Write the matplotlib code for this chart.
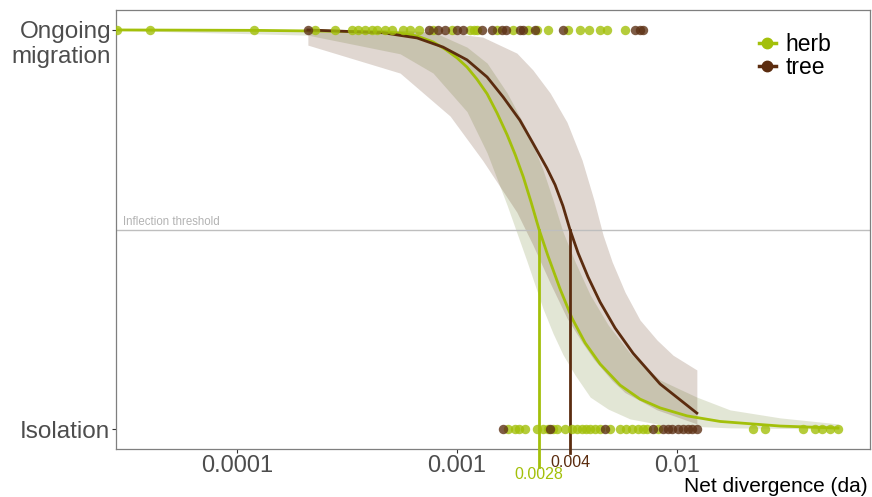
import matplotlib
matplotlib.use("Agg")
import matplotlib.pyplot as plt
from matplotlib.lines import Line2D
import numpy as np

plt.rcParams['font.family'] = ['Liberation Sans', 'DejaVu Sans']

herb_col = '#A3C00A'
tree_col = '#5B2C0F'
tree_pt = '#5E3216'

# observed divergence, at "Ongoing migration" (1) and "Isolation" (0)
herb_top = [2.85e-5, 4.03e-5, 1.19e-4, 2.26e-4, 2.79e-4, 3.33e-4, 3.55e-4, 3.82e-4,
            4.11e-4, 4.33e-4, 4.71e-4, 5.07e-4, 5.69e-4, 6.11e-4, 6.72e-4, 7.78e-4,
            9.50e-4, 1.15e-3, 1.19e-3, 1.23e-3, 1.52e-3, 1.80e-3, 2.10e-3, 2.31e-3,
            2.59e-3, 3.20e-3, 3.62e-3, 3.98e-3, 4.47e-3, 4.81e-3, 5.80e-3]
tree_top = [2.10e-4, 7.46e-4, 8.20e-4, 8.82e-4, 1.00e-3, 1.06e-3, 1.30e-3, 1.44e-3,
            1.60e-3, 1.67e-3, 1.93e-3, 2.00e-3, 2.26e-3, 3.03e-3, 6.44e-3, 6.79e-3, 7.00e-3]
herb_bottom = [1.71e-3, 1.84e-3, 1.91e-3, 2.04e-3, 2.31e-3, 2.46e-3, 2.59e-3, 2.73e-3,
               2.85e-3, 3.10e-3, 3.33e-3, 3.51e-3, 3.70e-3, 3.86e-3, 4.03e-3, 4.24e-3,
               4.47e-3, 4.96e-3, 5.51e-3, 5.86e-3, 6.24e-3, 6.65e-3, 7.00e-3, 7.31e-3,
               8.20e-3, 2.22e-2, 2.51e-2, 3.74e-2, 4.24e-2, 4.56e-2, 4.96e-2, 5.39e-2]
tree_bottom = [1.62e-3, 2.65e-3, 4.71e-3, 7.78e-3, 8.63e-3, 9.10e-3, 9.49e-3, 1.01e-2,
               1.06e-2, 1.12e-2, 1.17e-2, 1.23e-2]

# fitted curves
herb_x = [2.82e-5, 1.19e-4, 2.65e-4, 4.71e-4, 5.51e-4, 6.58e-4, 7.78e-4, 8.82e-4, 1.00e-3,
          1.11e-3, 1.23e-3, 1.37e-3, 1.52e-3, 1.69e-3, 1.84e-3, 2.00e-3, 2.17e-3, 2.36e-3,
          2.59e-3, 2.94e-3, 3.33e-3, 3.82e-3, 4.47e-3, 5.51e-3, 6.79e-3, 8.37e-3, 1.11e-2,
          1.57e-2, 2.94e-2, 5.39e-2]
herb_p = [1.0, 0.999, 0.997, 0.995, 0.992, 0.985, 0.970, 0.952, 0.930,
          0.907, 0.877, 0.840, 0.792, 0.737, 0.687, 0.632, 0.569, 0.50,
          0.434, 0.351, 0.278, 0.216, 0.163, 0.110, 0.075, 0.053, 0.033,
          0.019, 0.0075, 0.0025]
tree_x = [2.10e-4, 4.61e-4, 6.58e-4, 8.64e-4, 1.11e-3, 1.37e-3, 1.62e-3, 1.93e-3, 2.21e-3,
          2.56e-3, 2.79e-3, 3.03e-3, 3.26e-3, 3.55e-3, 3.94e-3, 4.47e-3, 5.23e-3, 6.31e-3,
          8.37e-3, 1.23e-2]
tree_p = [1.0, 0.993, 0.980, 0.957, 0.925, 0.882, 0.832, 0.774, 0.717,
          0.654, 0.612, 0.559, 0.50, 0.441, 0.381, 0.318, 0.253, 0.190,
          0.113, 0.04]

# confidence ribbons
herb_up_x = [2.82e-5, 2.10e-4, 5.51e-4, 7.78e-4, 1.11e-3, 1.37e-3, 1.69e-3, 2.08e-3, 2.46e-3,
             2.73e-3, 3.03e-3, 3.44e-3, 4.03e-3, 4.86e-3, 6.11e-3, 8.37e-3, 1.23e-2, 1.74e-2,
             2.94e-2, 5.39e-2]
herb_up_p = [1.0, 1.0, 0.999, 0.995, 0.957, 0.917, 0.842, 0.749, 0.649,
             0.574, 0.494, 0.419, 0.336, 0.261, 0.19, 0.123, 0.08, 0.048,
             0.028, 0.013]
herb_lo_x = [2.82e-5, 1.19e-4, 2.10e-4, 3.90e-4, 6.58e-4, 9.30e-4, 1.18e-3, 1.37e-3, 1.57e-3,
             1.78e-3, 2.15e-3, 2.56e-3, 3.16e-3, 4.03e-3, 5.51e-3, 8.63e-3, 1.74e-2, 5.39e-2]
herb_lo_p = [0.999, 0.996, 0.987, 0.970, 0.925, 0.857, 0.774, 0.692, 0.612,
             0.524, 0.398, 0.273, 0.165, 0.08, 0.03, 0.01, 0.003, 0.0]
tree_up_x = [2.10e-4, 5.51e-4, 9.30e-4, 1.31e-3, 1.87e-3, 2.21e-3, 2.65e-3, 3.16e-3, 3.70e-3,
             4.19e-3, 4.61e-3, 5.07e-3, 5.80e-3, 6.79e-3, 8.11e-3, 9.59e-3, 1.23e-2]
tree_up_p = [1.0, 0.999, 0.992, 0.982, 0.942, 0.900, 0.842, 0.769, 0.674,
             0.574, 0.486, 0.419, 0.343, 0.273, 0.223, 0.185, 0.148]
tree_lo_x = [2.10e-4, 3.26e-4, 5.51e-4, 7.78e-4, 1.03e-3, 1.27e-3, 1.57e-3, 1.80e-3, 2.06e-3,
             2.33e-3, 2.70e-3, 3.16e-3, 4.03e-3, 5.51e-3, 8.11e-3, 1.23e-2]
tree_lo_p = [0.962, 0.942, 0.892, 0.832, 0.757, 0.682, 0.617, 0.561, 0.499,
             0.434, 0.356, 0.278, 0.185, 0.098, 0.048, 0.013]

# inflection points (position on axis) and their printed labels
herb_infl, herb_infl_lab = 2.36e-3, '0.0028'
tree_infl, tree_infl_lab = 3.26e-3, '0.004'

fig = plt.figure(figsize=(8.72, 4.97), dpi=100)
ax = fig.add_axes([116 / 872, 48 / 497, 754 / 872, 439 / 497])

# ribbons: both edges put on a common x grid (log space)
herb_lo_on_up = np.interp(np.log10(herb_up_x), np.log10(herb_lo_x), herb_lo_p)
ax.fill_between(herb_up_x, herb_up_p, herb_lo_on_up, color='#9AA66A', alpha=0.28, lw=0, zorder=1)
tree_lo_on_up = np.interp(np.log10(tree_up_x), np.log10(tree_lo_x), tree_lo_p)
ax.fill_between(tree_up_x, tree_up_p, tree_lo_on_up, color=tree_col, alpha=0.19, lw=0, zorder=1)

# curves
ax.plot(herb_x, herb_p, color=herb_col, lw=2, zorder=3)
ax.plot(tree_x, tree_p, color=tree_col, lw=2, zorder=3)

# points
ax.scatter(herb_top, [1] * len(herb_top), s=46, color=herb_col, alpha=0.8, lw=0, zorder=4)
ax.scatter(herb_bottom, [0] * len(herb_bottom), s=46, color=herb_col, alpha=0.8, lw=0, zorder=4)
ax.scatter(tree_top, [1] * len(tree_top), s=46, color=tree_pt, alpha=0.8, lw=0, zorder=4)
ax.scatter(tree_bottom, [0] * len(tree_bottom), s=46, color=tree_pt, alpha=0.8, lw=0, zorder=4)

# threshold
ax.axhline(0.5, color='#BEBEBE', lw=1, zorder=2)
ax.text(0.009, 0.505, 'Inflection threshold', transform=ax.get_yaxis_transform(),
        color='#B3B3B3', fontsize=8.3, va='bottom', ha='left')

# inflection lines
ax.plot([herb_infl, herb_infl], [0.5, -0.095], color=herb_col, lw=2, clip_on=False, zorder=3)
ax.plot([tree_infl, tree_infl], [0.5, -0.06], color=tree_col, lw=2, clip_on=False, zorder=3)
ax.text(herb_infl, -0.115, herb_infl_lab, color=herb_col, fontsize=11.5, ha='center', va='center')
ax.text(tree_infl, -0.083, tree_infl_lab, color=tree_col, fontsize=11.5, ha='center', va='center')

ax.set_xscale('log')
ax.set_xlim(2.82e-5, 0.0753)
ax.set_ylim(-0.05, 1.05)
ax.set_xticks([1e-4, 1e-3, 1e-2])
ax.set_xticklabels(['0.0001', '0.001', '0.01'])
ax.minorticks_off()
ax.set_yticks([0, 1])
ax.set_yticklabels(['Isolation', ''])
ax.tick_params(axis='both', colors='#333333', labelcolor='#4D4D4D',
               length=3, width=0.8, pad=1.5)
ax.tick_params(axis='x', labelsize=17)
ax.tick_params(axis='y', labelsize=17.5)
ax.annotate('Ongoing\nmigration', xy=(0, 1), xycoords=('axes fraction', 'data'),
            xytext=(-3.5, 6.5), textcoords='offset points', ha='right', va='top',
            fontsize=17.5, color='#4D4D4D', linespacing=1.2)
for s in ax.spines.values():
    s.set_color('#7F7F7F')
    s.set_linewidth(0.9)

fig.text(868 / 872, 11 / 497, 'Net divergence (da)', ha='right', va='center', fontsize=15)

handles = [Line2D([], [], color=herb_col, marker='o', markersize=7.5, lw=2.5),
           Line2D([], [], color=tree_col, marker='o', markersize=7.5, lw=2.5)]
ax.legend(handles, ['herb', 'tree'], loc='upper left', bbox_to_anchor=(748 / 872, 1 - 22 / 497),
          bbox_transform=fig.transFigure, frameon=False, fontsize=16.5, handlelength=0.7,
          handletextpad=0.45, labelspacing=0.0, borderpad=0)

fig.savefig('out.png', dpi=100)
